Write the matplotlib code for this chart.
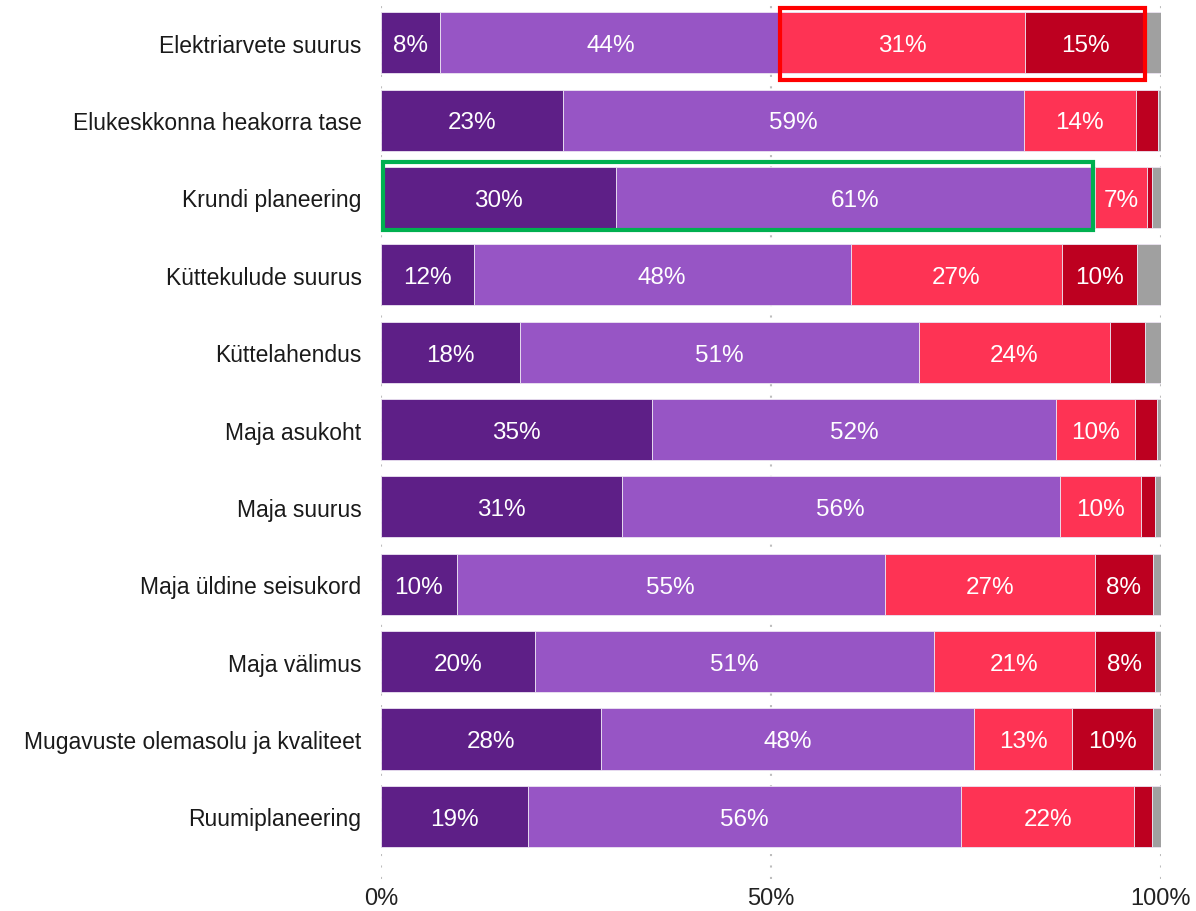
import matplotlib
matplotlib.use("Agg")
import matplotlib.pyplot as plt
from matplotlib.patches import Rectangle
import numpy as np

plt.rcParams["font.family"] = ["Liberation Sans", "DejaVu Sans"]

categories = [
    "Elektriarvete suurus",
    "Elukeskkonna heakorra tase",
    "Krundi planeering",
    "Küttekulude suurus",
    "Küttelahendus",
    "Maja asukoht",
    "Maja suurus",
    "Maja üldine seisukord",
    "Maja välimus",
    "Mugavuste olemasolu ja kvaliteet",
    "Ruumiplaneering",
]

very_satisfied = [7.6, 23.3, 30.1, 11.9, 17.8, 34.7, 30.9, 9.7, 19.7, 28.2, 18.8]
satisfied = [43.6, 59.1, 61.4, 48.3, 51.2, 51.9, 56.1, 54.9, 51.2, 47.8, 55.6]
dissatisfied = [31.4, 14.4, 6.7, 27.1, 24.4, 10.1, 10.4, 26.9, 20.6, 12.6, 22.2]
very_dissatisfied = [15.4, 2.8, 0.6, 9.6, 4.5, 2.8, 1.8, 7.5, 7.7, 10.4, 2.3]
no_answer = [2.0, 0.4, 1.2, 3.1, 2.1, 0.5, 0.8, 1.0, 0.8, 1.0, 1.1]

series = [very_satisfied, satisfied, dissatisfied, very_dissatisfied, no_answer]
colors = ["#5e1f87", "#9755c5", "#fe3354", "#bd0020", "#a0a0a0"]

x_ticks = [0, 50, 100]
x_tick_labels = ["0%", "50%", "100%"]

W, H = 1196, 912
fig = plt.figure(figsize=(W / 100, H / 100), dpi=100)
ax = fig.add_axes([381 / W, 1 - 880 / H, (1161 - 381) / W, (880 - 2) / H])

y = np.arange(len(categories))
left = np.zeros(len(categories))
for vals, col in zip(series, colors):
    vals = np.asarray(vals)
    ax.barh(y, vals, left=left, height=0.79, color=col,
            edgecolor="#ece4f2", linewidth=0.6, zorder=2)
    for yi, (l, v) in enumerate(zip(left, vals)):
        if v >= 5:
            ax.text(l + v / 2, yi + 0.03, f"{round(v):.0f}%", ha="center", va="center",
                    color="white", fontsize=17.5, zorder=4)
    left = left + vals

# highlight boxes
cum = np.cumsum(np.array(series), axis=0)
r0 = 0
red_left = cum[1][r0] - 0.1
red_right = cum[3][r0]
ax.add_patch(Rectangle((red_left, -0.45), red_right - red_left, 0.93,
                       fill=False, edgecolor="#ff0000", linewidth=3,
                       zorder=5, clip_on=False))
g0 = 2
green_right = cum[1][g0] - 0.2
ax.add_patch(Rectangle((0.2, g0 - 0.46), green_right - 0.2, 0.88,
                       fill=False, edgecolor="#00b050", linewidth=3,
                       zorder=5, clip_on=False))

ax.set_xlim(0, 100)
ax.set_ylim(10.81, -0.54)
ax.set_yticks(y)
ax.set_yticklabels(categories, fontsize=16.5, color="#1a1a1a")
ax.set_xticks(x_ticks)
ax.set_xticklabels(x_tick_labels, fontsize=17, color="#222222")
ax.tick_params(axis="both", length=0)
ax.tick_params(axis="y", pad=14)
ax.tick_params(axis="x", pad=6)
for s in ax.spines.values():
    s.set_visible(False)
ax.grid(axis="x", color="#bdbdbd", linestyle=(0, (1, 4.5)), linewidth=1.5, zorder=0)
ax.set_axisbelow(True)

fig.savefig("out.png", dpi=100)
